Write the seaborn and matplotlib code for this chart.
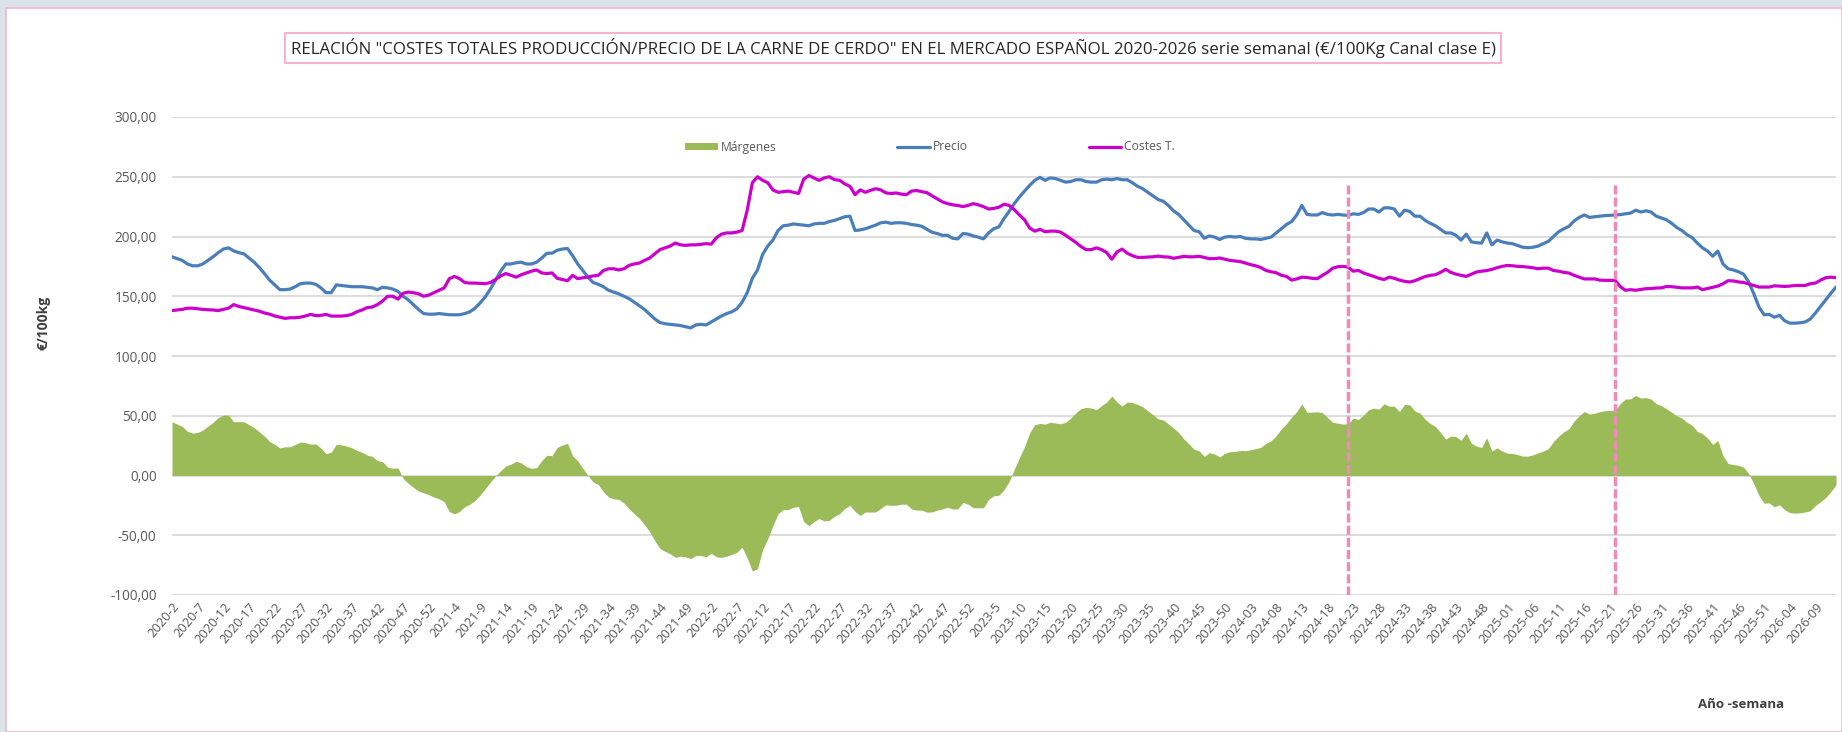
import numpy as np
import pandas as pd
import matplotlib
matplotlib.use("Agg")
import matplotlib.pyplot as plt
import seaborn as sns
from matplotlib.patches import Rectangle, Patch
from matplotlib.lines import Line2D
from matplotlib.ticker import FuncFormatter, FixedLocator

# ---------------- data ----------------
YEARS = [2020, 2021, 2022, 2023, 2024, 2025, 2026]
FIRST_WEEK = [2, 1, 1, 1, 1, 1, 1]
LAST_WEEK = [53, 52, 52, 52, 52, 52, 13]
PADDED_FROM = 2024          # week numbers written with two digits from this year
LABEL_EVERY = 5
MARKER_WEEKS = ["2024-22", "2025-22"]   # pink dashed reference lines
MARKER_TOP = 246

precio = [
    183, 181.5, 180, 177, 175.5, 175.5, 177, 180, 183, 186.5,
    189.5, 190.5, 188, 186.5, 185.5, 182, 178.5, 174, 169, 163.5,
    159.5, 155.5, 155.5, 156, 158, 160.5, 161, 161, 160, 157,
    153, 153, 159.5, 159, 158.5, 158, 158, 158, 157.5, 157,
    155.5, 157.5, 157, 156, 154, 150, 147, 143, 139, 135.5,
    135, 135, 135.5, 135, 134.5, 134.5, 134.5, 135.5, 137, 140,
    144.5, 149.5, 156, 163.5, 171, 177, 177, 178, 178.5, 177,
    177, 178.5, 182, 186, 186, 188.5, 189.5, 190, 184, 177,
    171.5, 166, 161.5, 160, 158, 155, 153.5, 152, 150, 148,
    145, 142, 139, 135, 131, 128, 127, 126.5, 126, 125.5,
    124.5, 123.5, 126, 126.5, 126, 128.5, 131, 133.5, 135.5, 137,
    139.5, 145, 153, 165, 172, 185, 192, 197, 205, 209,
    209.5, 210.5, 210, 209.5, 209, 210.5, 211, 211, 212.5, 213.5,
    215, 216.5, 217, 205, 205.5, 206.5, 208, 209.5, 211.5, 212,
    211, 211.5, 211.5, 211, 210, 209.5, 208.5, 206, 203.5, 202.5,
    201, 201, 198.5, 198, 202.5, 202, 200.5, 199.5, 198, 203,
    206.5, 208, 215, 221, 227.5, 233, 238, 242.8, 247, 249.5,
    247, 249, 248.5, 247, 245.5, 246, 247.5, 247.5, 246, 245.5,
    245.5, 247.5, 248, 247.5, 248.5, 247.5, 247.5, 245, 242, 240,
    237, 234, 231, 229.5, 226, 221.5, 218.5, 214, 209.5, 205,
    204, 198.5, 200.5, 199.5, 197.5, 199.5, 200, 199.5, 200, 198.5,
    198, 198, 197.5, 198.5, 199.5, 203, 206.5, 210, 212.5, 218,
    226, 218.5, 218, 218, 220, 218.5, 218, 218.5, 218, 217.7,
    219, 218.5, 220, 223, 223, 220.5, 224, 224, 223, 217,
    222, 221, 217, 217, 213.5, 211, 209, 206, 203, 203,
    201, 197, 202, 195.5, 194.8, 194.5, 203, 193, 197, 195.5,
    194.5, 194, 192.5, 191, 190.6, 191, 192, 194, 196, 200,
    204, 206.5, 208.5, 213, 216, 218, 216, 216.5, 217, 217.5,
    217.7, 218, 218.3, 219, 219.6, 222, 220.5, 221.5, 220.5, 217,
    215.5, 214, 211, 207.5, 205, 201.5, 199, 194.5, 190.5, 187.8,
    183.5, 187.8, 177, 173, 172, 170.5, 168.5, 162, 152, 141,
    134.5, 134.8, 132.5, 134, 129.5, 127.5, 127.5, 127.8, 128.5, 131,
    136, 141.5, 147, 152.5, 157.7,
]

costes = [
    138, 138.5, 139, 140, 140, 139.5, 139, 138.7, 138.5, 138,
    139, 140, 143, 141.5, 140.5, 139.5, 138.5, 137.5, 136, 135,
    133.5, 132.5, 131.5, 132, 132, 132.5, 133.5, 134.8, 133.7, 134,
    134.8, 133.4, 133.4, 133.4, 133.8, 134.8, 137, 138.5, 140.5, 141,
    143, 146, 150, 150, 147.6, 152.5, 153.5, 153, 152, 150,
    151, 153, 155, 157, 164.7, 166.6, 164.7, 161.5, 161, 161,
    160.8, 160.5, 161.5, 164, 167, 169, 167.5, 166, 168, 169.5,
    171, 172, 169.5, 169, 169.5, 165, 164, 163, 167.5, 164.7,
    165.5, 166, 167, 167.5, 171.5, 173, 173, 172, 173, 175.8,
    177, 177.8, 180, 182, 185.5, 189, 190.5, 192, 194.5, 193,
    192.6, 193, 193, 193.5, 194, 193.6, 199, 202, 203, 203,
    203.7, 205, 222, 245, 250, 247, 245, 239, 237, 237.5,
    238, 237, 236, 248, 251, 249, 247, 249, 250, 247.6,
    247, 244, 242, 235, 239, 237, 238.6, 240, 239, 236.5,
    236, 236.4, 235.5, 235, 238, 238.5, 237.5, 236.7, 234, 231.5,
    229, 227.5, 226.5, 226, 225, 226, 227.5, 226.5, 225, 223,
    223.5, 224.5, 227, 226, 222.5, 218, 214, 207, 204.5, 206,
    204, 204.5, 204.5, 203.7, 201, 198, 195, 191.5, 189, 189,
    190.5, 189, 186.5, 181, 187, 189.5, 186, 184, 182.5, 182.5,
    182.8, 183, 183.6, 183, 182.8, 181.8, 182.5, 183.4, 183, 183,
    183.4, 182.5, 181.4, 181.5, 182, 181, 180, 179.5, 179, 177.8,
    176.5, 175.5, 174, 171.6, 170.5, 169.7, 167.5, 166.6, 163.5, 164.5,
    166, 165.7, 165, 164.7, 167.5, 170, 173.5, 174.7, 175, 174.4,
    171, 171.6, 169.5, 168, 166.6, 165, 164, 166, 165, 163.5,
    162.5, 161.9, 163, 164.8, 166.5, 167.5, 168, 170, 172.5, 170,
    168.5, 167.5, 166.6, 168.5, 170.3, 171, 171.5, 172.5, 173.9, 175,
    175.8, 175.5, 175, 174.8, 174.4, 173.8, 173, 173.5, 173.5, 171.5,
    171, 170, 169.4, 167.5, 166, 164.5, 164.5, 164.5, 163.5, 163.3,
    163.3, 163.3, 158, 155, 155.5, 155, 155.7, 156.3, 156.5, 156.9,
    157, 158.2, 158, 157.5, 157, 157, 157, 157.7, 155.5, 156.5,
    157.5, 158.5, 160.5, 163, 162.8, 162, 161.5, 160.3, 159, 157.7,
    157.7, 157.7, 158.7, 158.5, 158.2, 158.5, 159, 159, 159, 160.5,
    161, 163.5, 165.5, 166, 165.5,
]

Y_TICKS = [-100, -50, 0, 50, 100, 150, 200, 250, 300]

# ---------------- build table ----------------
semanas = []
for yr, a, b in zip(YEARS, FIRST_WEEK, LAST_WEEK):
    for w in range(a, b + 1):
        semanas.append(f"{yr}-{w:02d}" if yr >= PADDED_FROM else f"{yr}-{w}")

df = pd.DataFrame({"semana": semanas, "Precio": precio, "Costes T.": costes})
df["pos"] = np.arange(len(df))
df["Márgenes"] = df["Precio"] - df["Costes T."]

# ---------------- style ----------------
sns.set_theme(style="white")
plt.rcParams["font.family"] = ["Open Sans", "DejaVu Sans"]

C_MARG = "#9bbb59"
C_PREC = "#4a7ebb"
C_COST = "#cc00cc"
C_GRID = "#d9d9d9"
C_TEXT = "#595959"
C_PINK = "#f08ab9"

W, H = 1842, 732
fig = plt.figure(figsize=(W / 100, H / 100), dpi=100)
fig.patch.set_facecolor("#dce3e8")
fig.patches.append(Rectangle((6 / W, 0), 1 - 6 / W, 1 - 8 / H, transform=fig.transFigure,
                             facecolor="white", edgecolor="#f2b6d0", lw=1.2, zorder=-10))

ax = fig.add_axes([172 / W, 1 - 595 / H, (1836 - 172) / W, (595 - 117) / H])
ax.set_facecolor("none")
ax.set_zorder(1)

ax.fill_between(df["pos"], 0, df["Márgenes"], color=C_MARG, linewidth=0, zorder=2)
sns.lineplot(data=df, x="pos", y="Precio", color=C_PREC, lw=2.3, ax=ax, zorder=3, legend=False)
sns.lineplot(data=df, x="pos", y="Costes T.", color=C_COST, lw=2.3, ax=ax, zorder=3, legend=False)

for wk in MARKER_WEEKS:
    xpos = df.loc[df["semana"] == wk, "pos"].iloc[0]
    ax.vlines(xpos, Y_TICKS[0], MARKER_TOP, colors=C_PINK, lw=2.5,
              linestyles=(0, (2.6, 0.9)), zorder=4)

ax.set_xlim(df["pos"].iloc[0], df["pos"].iloc[-1])
ax.set_ylim(Y_TICKS[0], Y_TICKS[-1])
ax.yaxis.set_major_locator(FixedLocator(Y_TICKS))
ax.yaxis.set_major_formatter(FuncFormatter(lambda v, p: f"{v:.2f}".replace(".", ",")))
tick_pos = df["pos"].iloc[::LABEL_EVERY]
ax.set_xticks(tick_pos)
ax.set_xticklabels(df["semana"].iloc[::LABEL_EVERY], rotation=50, ha="right",
                   rotation_mode="anchor", fontsize=9.3, color=C_TEXT)
ax.tick_params(axis="y", labelsize=9.8, labelcolor=C_TEXT, length=0, pad=11)
ax.tick_params(axis="x", length=0, pad=4)
ax.grid(axis="y", color=C_GRID, lw=1.3)
ax.grid(axis="x", visible=False)
ax.set_axisbelow(True)
for s in ax.spines.values():
    s.set_visible(False)
ax.set_xlabel("")
ax.set_ylabel("")

# ---------------- texts ----------------
fig.text(893 / W, 1 - 48 / H,
         'RELACIÓN "COSTES TOTALES PRODUCCIÓN/PRECIO DE LA CARNE DE CERDO" EN EL MERCADO ESPAÑOL 2020-2026 serie semanal (€/100Kg Canal clase E)',
         ha="center", va="center", fontsize=12.2, color="#262626",
         bbox=dict(boxstyle="square,pad=0.3", fc="white", ec="#f2a6c6", lw=1.2))
fig.text(43 / W, 1 - 323 / H, "€/100kg", rotation=90, ha="center", va="center",
         fontsize=10, fontweight="bold", color="#404040")
fig.text(1741 / W, 1 - 705 / H, "Año -semana", ha="center", va="center",
         fontsize=9.5, fontweight="bold", color="#404040")

handles = [Patch(facecolor=C_MARG, edgecolor="none"),
           Line2D([], [], color=C_PREC, lw=2.3),
           Line2D([], [], color=C_COST, lw=2.3)]
fig.legend(handles, ["Márgenes", "Precio", "Costes T."], ncol=3, loc="center",
           bbox_to_anchor=(930 / W, 1 - 147 / H), frameon=False, fontsize=8.7,
           labelcolor=C_TEXT, handlelength=2.7, handleheight=0.5, handletextpad=0.25,
           columnspacing=10.0)

fig.savefig("out.png", dpi=100, facecolor=fig.get_facecolor())
